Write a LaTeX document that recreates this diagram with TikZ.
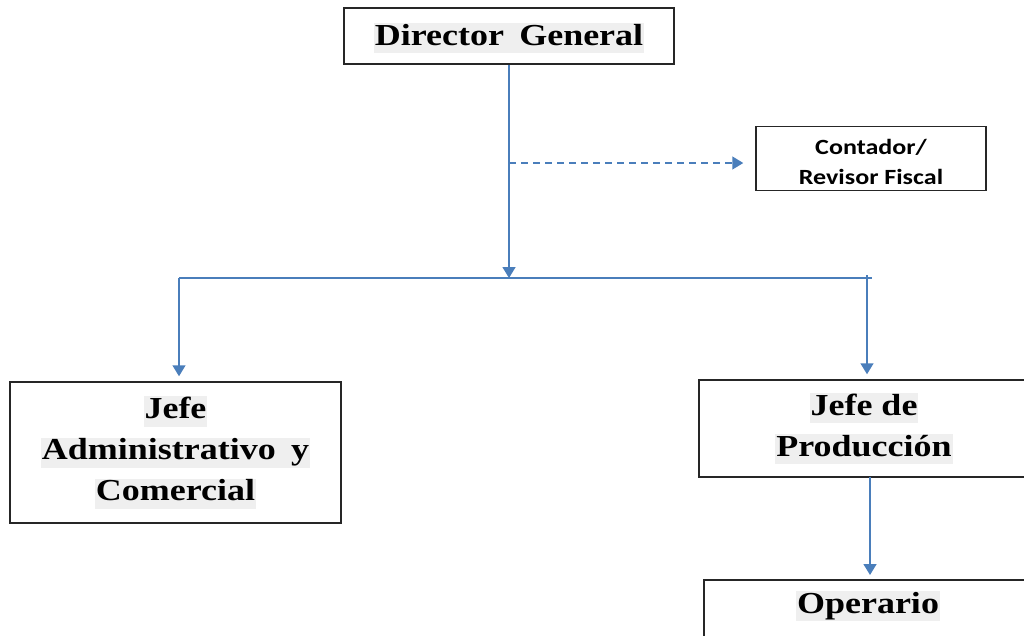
\documentclass[tikz,border=0pt]{standalone}
\usepackage{fontspec}
\usetikzlibrary{arrows.meta}
\newfontfamily\serifbig{Liberation Serif}[FakeStretch=1.18]
\newfontfamily\sansbox{Carlito}[FakeStretch=1.2]
\definecolor{linkblue}{HTML}{4A7EBB}
\definecolor{hlgray}{HTML}{EFEFEF}
\newcommand\hl[1]{{\setlength\fboxsep{1pt}\colorbox{hlgray}{\rule[-7pt]{0pt}{26pt}#1}}}
\begin{document}
\begin{tikzpicture}[x=1pt,y=-1pt,
  box/.style={draw=black!85, line width=1.5pt, rectangle, inner sep=0pt, align=center,
    font=\serifbig\bfseries\fontsize{30.5}{41}\selectfont},
  txt/.style={inner sep=0pt, align=center, font=\serifbig\bfseries\fontsize{30.5}{41}\selectfont},
  link/.style={draw=linkblue, line width=1.5pt, -{Triangle[width=13pt,length=11pt]}},
  plain/.style={draw=linkblue, line width=1.5pt}]
\clip (0,0) rectangle (1024,635);
\fill[white] (0,0) rectangle (1024,635);

\node[box, minimum width=330pt, minimum height=56pt, text height=26pt] (dg) at (509,36) {\hl{Director\hspace{0.5em}General}};
\node[box, minimum width=230pt, minimum height=64pt] (cont) at (871,158.7) {};
\node[inner sep=0pt, align=center, font=\sansbox\bfseries\fontsize{21.7}{30}\selectfont] (conttxt) at (871,162) {Contador/\\Revisor Fiscal};
\node[box, minimum width=331pt, minimum height=141pt] (ja) at (175.5,452.5) {\hl{Jefe}\\\hl{Administrativo\hspace{0.5em}y}\\\hl{Comercial}};
\node[box, minimum width=330pt, minimum height=97pt] (jp) at (864,428.5) {\hl{Jefe de}\\\hl{Producción}};
\node[box, minimum width=330pt, minimum height=100pt, anchor=north west] (op) at (703,579) {};
\node[txt] (optxt) at (868,606) {\hl{Operario}};

\coordinate (dj) at (dg.south |- 0,163);
\coordinate (hj) at (dg.south |- 0,278);
\coordinate (hl) at (179,278);
\coordinate (hr) at (872,278);
\coordinate (hrv) at (867,275);
\coordinate (pv) at (870,477);

\draw[link] (dg.south) -- (hj);
\draw[link, dashed, dash pattern=on 7pt off 5pt, shorten >=12pt] (dj) -- (dj -| cont.west);
\draw[plain] (hl) -- (hr);
\draw[link, shorten >=5pt] (hl) -- (hl |- ja.north);
\draw[link, shorten >=5pt] (hrv) -- (hrv |- jp.north);
\draw[link, shorten >=4pt] (pv) -- (pv |- op.north);
\end{tikzpicture}
\end{document}
